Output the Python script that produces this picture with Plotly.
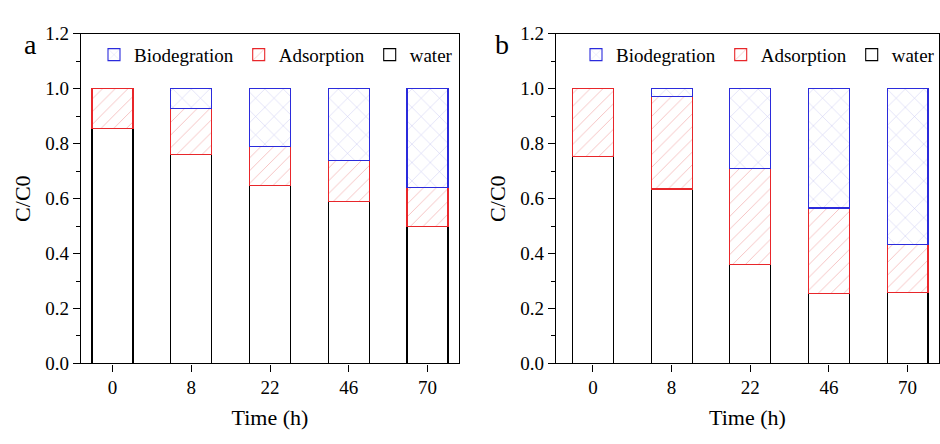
import plotly.graph_objects as go

times = ["0", "8", "22", "46", "70"]
# panel a
water_a = [0.855, 0.761, 0.647, 0.591, 0.499]
ads_top_a = [1.0, 0.927, 0.791, 0.739, 0.641]
# panel b
water_b = [0.752, 0.635, 0.360, 0.254, 0.259]
ads_top_b = [1.0, 0.971, 0.709, 0.566, 0.432]
total = [1.0, 1.0, 1.0, 1.0, 1.0]

FONT = "Liberation Serif"
RED = "#e8262a"
BLUE = "#2b2bdc"

fig = go.Figure()

def nz(v):
    return [x if abs(x) > 1e-9 else None for x in v]

def add_panel(water, ads_top, xa, ya, legend):
    ads = [t - w for t, w in zip(ads_top, water)]
    bio = [c - t for c, t in zip(total, ads_top)]
    common = dict(x=times, xaxis=xa, yaxis=ya, width=0.52, legend=legend)
    fig.add_trace(go.Bar(y=nz(water), name="water",
                         marker=dict(color="white", line=dict(color="black", width=1.1)),
                         **common))
    fig.add_trace(go.Bar(y=nz(ads), name="Adsorption",
                         marker=dict(color="white", line=dict(color=RED, width=1.1),
                                     pattern=dict(shape="/", fgcolor="rgba(232,100,100,0.85)",
                                                  bgcolor="white", size=9, solidity=0.1)),
                         **common))
    fig.add_trace(go.Bar(y=nz(bio), name="Biodegration",
                         marker=dict(color="white", line=dict(color=BLUE, width=1.1),
                                     pattern=dict(shape="x", fgcolor="rgba(110,110,220,0.8)",
                                                  bgcolor="white", size=13, solidity=0.07)),
                         **common))

add_panel(water_a, ads_top_a, "x", "y", "legend")
add_panel(water_b, ads_top_b, "x2", "y2", "legend2")

W, H = 940, 444
ytop = 1 - 25 / H
ybot = 1 - 371 / H

axis_common = dict(showline=True, linecolor="black", linewidth=1.3, mirror=True,
                   ticks="outside", ticklen=7, tickcolor="black", tickwidth=1.3,
                   tickfont=dict(family=FONT, size=19, color="black"), showgrid=False,
                   zeroline=False)

xcommon = dict(axis_common, type="category",
               title=dict(text="Time (h)", font=dict(family=FONT, size=22, color="black"), standoff=12))
ycommon = dict(axis_common, range=[0, 1.2], tickvals=[0, 0.2, 0.4, 0.6, 0.8, 1.0, 1.2],
               ticktext=["0.0", "0.2", "0.4", "0.6", "0.8", "1.0", "1.2"],
               minor=dict(ticks="outside", ticklen=4, tickcolor="black", dtick=0.1, tick0=0, showgrid=False),
               title=dict(text="C/C0", font=dict(family=FONT, size=22, color="black"), standoff=8))

legend_common = dict(orientation="h", yanchor="middle", y=1 - 47 / H, xanchor="left",
                     traceorder="reversed", font=dict(family=FONT, size=19, color="black"),
                     bgcolor="rgba(0,0,0,0)", itemwidth=30, tracegroupgap=0)

fig.update_layout(
    width=W, height=H, margin=dict(l=0, r=0, t=0, b=0),
    font=dict(family=FONT, color="black"),
    paper_bgcolor="white", plot_bgcolor="white",
    barmode="stack", bargap=0.48,
    xaxis=dict(xcommon, domain=[81 / W, 459 / W], range=[-0.4, 4.4], anchor="y"),
    yaxis=dict(ycommon, domain=[ybot, ytop], anchor="x"),
    xaxis2=dict(xcommon, domain=[556 / W, 939 / W], range=[-0.47, 4.4], anchor="y2"),
    yaxis2=dict(ycommon, domain=[ybot, ytop], anchor="x2"),
    legend=dict(legend_common, x=94 / W),
    legend2=dict(legend_common, x=576 / W),
    annotations=[
        dict(text="a", x=22 / W, y=1 - 18 / H, xref="paper", yref="paper", showarrow=False,
             font=dict(family=FONT, size=28, color="black")),
        dict(text="b", x=502 / W, y=1 - 18 / H, xref="paper", yref="paper", showarrow=False,
             font=dict(family=FONT, size=28, color="black")),
    ],
)

fig.write_html("out.html")
